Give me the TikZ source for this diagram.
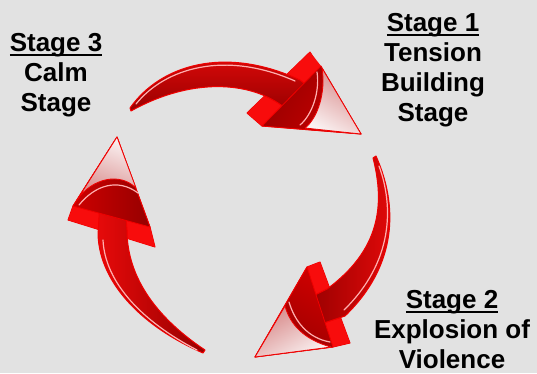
\documentclass[tikz,border=0pt]{standalone}
\usepackage{fontspec}
\setmainfont{Liberation Sans}
\definecolor{bg}{RGB}{226,226,226}
\definecolor{edgered}{RGB}{240,0,0}
\definecolor{barbred}{RGB}{248,12,12}
\definecolor{darkred}{RGB}{150,0,0}
\definecolor{midred}{RGB}{205,0,0}
\definecolor{brightred}{RGB}{230,10,10}
\definecolor{hlpink}{RGB}{255,175,175}
\definecolor{facelight}{RGB}{250,242,242}
\definecolor{facepink}{RGB}{215,135,135}
\newcommand\ulin[1]{\setbox0\hbox{#1}\rlap{\rule[-4.5pt]{\wd0}{2pt}}\box0}
\tikzset{
  headout/.style={fill=edgered, draw=edgered, line width=1pt, line join=round},
  barbstrip/.style={fill=barbred},
  shaftbody/.style={draw=edgered, line width=1pt, line join=round},
  fronttri/.style={draw=edgered, line width=0.8pt, line join=round},
  faceshape/.style={draw=edgered, line width=0.8pt, line join=round},
  hl/.style={draw=hlpink, line width=1.2pt, line cap=round},
  lbl/.style={font=\fontsize{26}{30}\selectfont\bfseries, align=center, inner sep=0pt, anchor=north, text=black}
}
\begin{document}
\begin{tikzpicture}[x=1pt,y=-1pt]
\useasboundingbox (0,0) rectangle (537,373);
\clip (0,0) rectangle (537,373);
\fill[bg] (0,0) rectangle (537,373);

% ---------- top arrow (Stage 3 -> Stage 1)
\coordinate (ta1) at (310,52);
\coordinate (ta2) at (247,113);
\coordinate (tb1) at (321,66);
\coordinate (tb2) at (262,126);
\coordinate (tt) at (361,134);
\path[headout] (ta1) -- (tt) -- (tb2) -- (ta2) -- cycle;
\path[barbstrip] (ta1) -- (tb1) -- (tb2) -- (ta2) -- cycle;
\path[shaftbody, top color=brightred, bottom color=darkred]
  (130,108) .. controls (160,65) and (225,45) .. (300,80) -- (315,92)
  -- (295,113) -- (285,108) .. controls (250,80) and (190,78) .. (131,111) -- cycle;
\path[fronttri, left color=darkred, right color=midred, shading angle=60]
  (tb1) -- (tt) -- (tb2) -- cycle;
\path[faceshape, top color=facepink, bottom color=facelight, shading angle=-30]
  (322,68) -- (tt) -- (305,128) .. controls (318,118) and (326,92) .. cycle;
\draw[hl] (300,125) .. controls (312,115) and (320,92) .. (317,72);
\draw[hl] (136,104) .. controls (165,68) and (225,50) .. (295,81);

% ---------- right arrow (Stage 1 -> Stage 2)
\coordinate (ra1) at (320,262);
\coordinate (ra2) at (350,343);
\coordinate (rb1) at (307,267);
\coordinate (rb2) at (333,347);
\coordinate (rt) at (255,357);
\path[headout] (rt) -- (rb1) -- (ra1) -- (ra2) -- (rb2) -- cycle;
\path[barbstrip] (rb1) -- (ra1) -- (ra2) -- (rb2) -- cycle;
\path[shaftbody, left color=darkred, right color=brightred]
  (376,156) .. controls (398,205) and (398,265) .. (345,316) -- (318,325)
  -- (305,300) -- (327,289) .. controls (380,250) and (385,205) .. (373,158) -- cycle;
\path[fronttri, left color=midred, right color=darkred, shading angle=-30]
  (rb1) -- (rt) -- (rb2) -- cycle;
\path[faceshape, top color=facepink, bottom color=facelight, shading angle=30]
  (285,306) -- (rt) -- (331,347) .. controls (305,340) and (290,325) .. cycle;
\draw[hl] (289,302) .. controls (295,322) and (308,338) .. (330,342);
\draw[hl] (379,166) .. controls (394,207) and (393,262) .. (344,310);

% ---------- left arrow (Stage 2 -> Stage 3)
\coordinate (la1) at (68,220);
\coordinate (la2) at (155,247);
\coordinate (lb1) at (73,206);
\coordinate (lb2) at (150,227);
\coordinate (lt) at (117,137);
\path[headout] (lt) -- (lb2) -- (la2) -- (la1) -- (lb1) -- cycle;
\path[barbstrip] (lb1) -- (lb2) -- (la2) -- (la1) -- cycle;
\path[shaftbody, left color=brightred, right color=darkred]
  (203,353) .. controls (145,328) and (100,285) .. (98,235) -- (100,200)
  -- (125,205) -- (127,230) .. controls (127,280) and (160,320) .. (205,350) -- cycle;
\path[fronttri, left color=midred, right color=darkred]
  (lb1) -- (lt) -- (lb2) -- cycle;
\path[faceshape, top color=facepink, bottom color=facelight, shading angle=160]
  (77,200) -- (lt) -- (136,188) .. controls (120,172) and (92,178) .. cycle;
\draw[hl] (79,205) .. controls (95,185) and (118,178) .. (138,193);
\draw[hl] (197,350) .. controls (143,322) and (105,283) .. (103,240);

% ---------- labels
\node[lbl] (s3) at (56,33) {\ulin{Stage 3}\\Calm\\Stage};
\node[lbl] (s1) at (433,13) {\ulin{Stage 1}\\Tension\\Building\\Stage};
\node[lbl] (s2) at (452,290) {\ulin{Stage 2}\\Explosion of\\Violence};
\end{tikzpicture}
\end{document}
